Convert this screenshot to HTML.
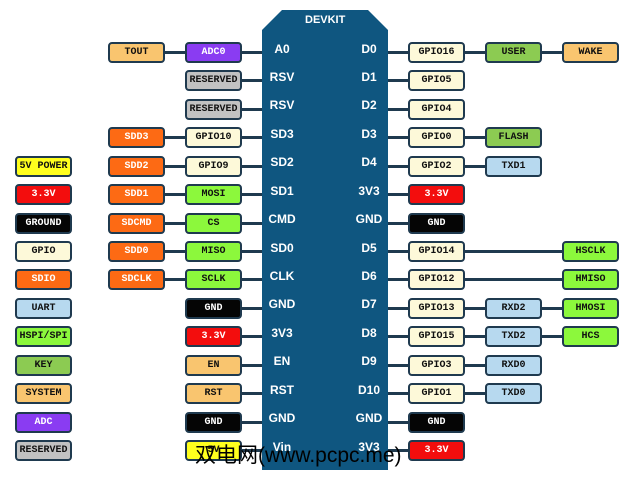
<!DOCTYPE html>
<html><head><meta charset="utf-8"><style>
body{margin:0;width:635px;height:478px;background:#fff;position:relative;overflow:hidden;font-family:"Liberation Mono",monospace;}
.b{position:absolute;width:53px;height:17px;border:2px solid #1f3a4f;border-radius:4px;font-size:10px;font-weight:bold;line-height:17px;text-align:center;color:#111;box-sizing:content-box;}
.w{color:#fff}
.l{position:absolute;height:3px;background:#1f3a4f;}
.p{position:absolute;color:#fff;font-family:"Liberation Sans",sans-serif;font-weight:bold;font-size:12px;width:40px;text-align:center;}
</style></head><body>
<svg style="position:absolute;left:0;top:0" width="635" height="478"><polygon points="282,10 368,10 388,30 388,470 262,470 262,30" fill="#0f5680"/></svg>
<div class="p" style="left:305px;top:14px;width:40px;font-size:11px">DEVKIT</div>
<div id="c"></div>
<div style="position:absolute;left:195px;top:439px;font-family:'Liberation Sans','Noto Sans CJK SC',sans-serif;font-size:21px;color:#000;">双电网(www.pcpc.me)</div>
<script>
const C={tan:['#f9c56f',0],pur:['#8a3cf2',1],gry:['#c2c2c2',0],org:['#fd6a14',1],crm:['#fdf9d9',0],lim:['#8cf83c',0],blk:['#050505',1],red:['#f30d0d',1],blu:['#b7d9ef',0],key:['#8ccb52',0],yel:['#ffff1e',0]};
const Y=i=>52.5+i*28.43;
let h='';
function box(x,y,t,c){h+=`<div class="b ${C[c][1]?'w':''}" style="left:${x}px;top:${Math.round(y-10.5)}px;background:${C[c][0]}">${t}</div>`;}
function ln(x1,x2,y){h+=`<div class="l" style="left:${x1}px;width:${x2-x1}px;top:${Math.round(y-1.5)}px"></div>`;}
const L=[['A0','TOUT','tan','ADC0','pur'],['RSV',0,0,'RESERVED','gry'],['RSV',0,0,'RESERVED','gry'],['SD3','SDD3','org','GPIO10','crm'],['SD2','SDD2','org','GPIO9','crm'],['SD1','SDD1','org','MOSI','lim'],['CMD','SDCMD','org','CS','lim'],['SD0','SDD0','org','MISO','lim'],['CLK','SDCLK','org','SCLK','lim'],['GND',0,0,'GND','blk'],['3V3',0,0,'3.3V','red'],['EN',0,0,'EN','tan'],['RST',0,0,'RST','tan'],['GND',0,0,'GND','blk'],['Vin',0,0,'5V','yel']];
const R=[['D0','GPIO16','crm','USER','key','WAKE','tan'],['D1','GPIO5','crm'],['D2','GPIO4','crm'],['D3','GPIO0','crm','FLASH','key'],['D4','GPIO2','crm','TXD1','blu'],['3V3','3.3V','red'],['GND','GND','blk'],['D5','GPIO14','crm',0,0,'HSCLK','lim'],['D6','GPIO12','crm',0,0,'HMISO','lim'],['D7','GPIO13','crm','RXD2','blu','HMOSI','lim'],['D8','GPIO15','crm','TXD2','blu','HCS','lim'],['D9','GPIO3','crm','RXD0','blu'],['D10','GPIO1','crm','TXD0','blu'],['GND','GND','blk'],['3V3','3.3V','red']];
L.forEach((r,i)=>{const y=Y(i);ln(242,262,y);if(r[1]){ln(164,185,y);box(108,y,r[1],r[2]);}box(185,y,r[3],r[4]);h+=`<div class="p" style="left:262px;top:${Math.round(y-11)}px">${r[0]}</div>`;});
R.forEach((r,i)=>{const y=Y(i);ln(388,408,y);box(408,y,r[1],r[2]);if(r[3]){ln(464,485,y);box(485,y,r[3],r[4]);}if(r[5]){ln(r[3]?541:464,562,y);box(562,y,r[5],r[6]);}h+=`<div class="p" style="left:349px;top:${Math.round(y-11)}px">${r[0]}</div>`;});
[['5V POWER','yel'],['3.3V','red'],['GROUND','blk'],['GPIO','crm'],['SDIO','org'],['UART','blu'],['HSPI/SPI','lim'],['KEY','key'],['SYSTEM','tan'],['ADC','pur'],['RESERVED','gry']].forEach((r,i)=>box(15,Y(i+4),r[0],r[1]));
document.getElementById('c').innerHTML=h;
</script>
</body></html>
